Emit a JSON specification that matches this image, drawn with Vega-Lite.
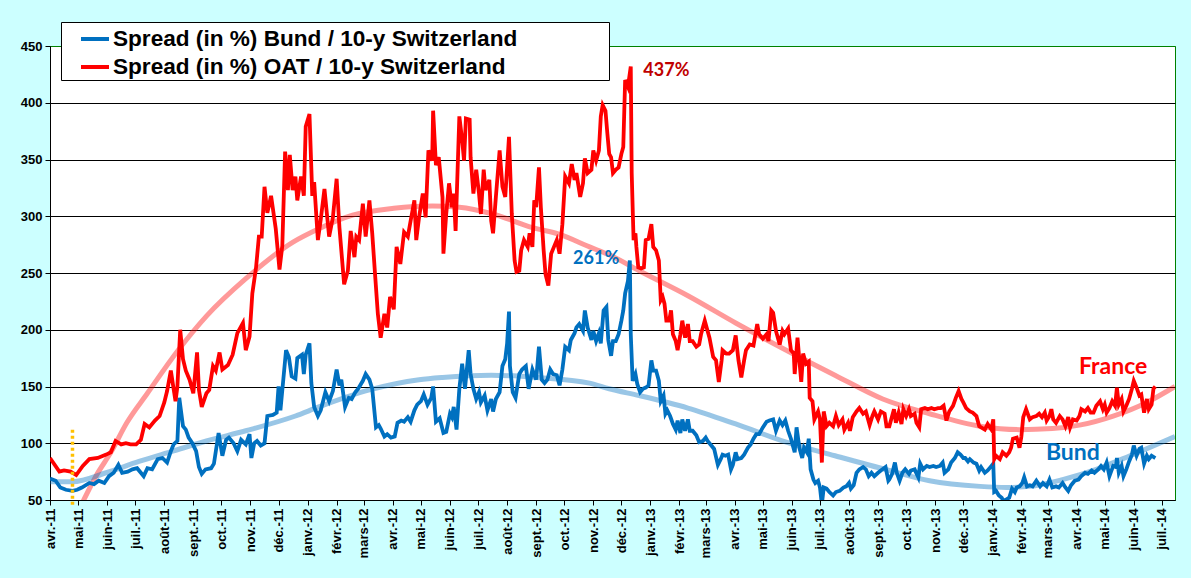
{
  "$schema": "https://vega.github.io/schema/vega-lite/v6.json",
  "description": "Spreads of Bund and OAT against 10-y Switzerland",
  "width": 1125,
  "height": 454,
  "autosize": "none",
  "padding": {"left": 50, "top": 46, "right": 16, "bottom": 78},
  "background": "#CCFFFF",
  "datasets": {
    "oat": [
      {"d":"2011-04-01","v":87},{"d":"2011-04-11","v":75},{"d":"2011-04-16","v":76},{"d":"2011-04-23","v":75},{"d":"2011-04-29","v":72},
      {"d":"2011-05-06","v":80},{"d":"2011-05-13","v":86},{"d":"2011-05-22","v":87},{"d":"2011-05-31","v":90},{"d":"2011-06-05","v":92},
      {"d":"2011-06-10","v":102},{"d":"2011-06-16","v":99},{"d":"2011-06-21","v":100},{"d":"2011-06-26","v":99},{"d":"2011-07-02","v":99},
      {"d":"2011-07-07","v":103},{"d":"2011-07-11","v":117},{"d":"2011-07-16","v":114},{"d":"2011-07-22","v":120},{"d":"2011-07-27","v":124},
      {"d":"2011-08-01","v":136},{"d":"2011-08-04","v":146},{"d":"2011-08-08","v":164},{"d":"2011-08-13","v":137},{"d":"2011-08-15","v":150},
      {"d":"2011-08-18","v":200},{"d":"2011-08-21","v":174},{"d":"2011-08-24","v":164},{"d":"2011-08-28","v":156},{"d":"2011-09-01","v":144},
      {"d":"2011-09-05","v":180},{"d":"2011-09-07","v":147},{"d":"2011-09-10","v":132},{"d":"2011-09-15","v":144},{"d":"2011-09-18","v":147},
      {"d":"2011-09-22","v":168},{"d":"2011-09-25","v":164},{"d":"2011-09-29","v":180},{"d":"2011-10-02","v":165},{"d":"2011-10-08","v":169},
      {"d":"2011-10-13","v":178},{"d":"2011-10-18","v":197},{"d":"2011-10-24","v":206},{"d":"2011-10-27","v":182},{"d":"2011-10-31","v":194},
      {"d":"2011-11-03","v":232},{"d":"2011-11-07","v":255},{"d":"2011-11-10","v":282},{"d":"2011-11-13","v":282},{"d":"2011-11-16","v":326},
      {"d":"2011-11-19","v":303},{"d":"2011-11-23","v":318},{"d":"2011-11-28","v":289},{"d":"2011-12-02","v":253},{"d":"2011-12-05","v":274},
      {"d":"2011-12-08","v":357},{"d":"2011-12-11","v":323},{"d":"2011-12-13","v":354},{"d":"2011-12-16","v":323},{"d":"2011-12-19","v":335},
      {"d":"2011-12-21","v":314},{"d":"2011-12-25","v":335},{"d":"2011-12-28","v":318},{"d":"2011-12-30","v":379},{"d":"2012-01-03","v":390},
      {"d":"2012-01-06","v":318},{"d":"2012-01-08","v":330},{"d":"2012-01-12","v":279},{"d":"2012-01-15","v":297},{"d":"2012-01-19","v":324},
      {"d":"2012-01-24","v":282},{"d":"2012-01-28","v":299},{"d":"2012-02-01","v":333},{"d":"2012-02-04","v":290},{"d":"2012-02-09","v":240},
      {"d":"2012-02-13","v":252},{"d":"2012-02-16","v":287},{"d":"2012-02-20","v":264},{"d":"2012-02-22","v":282},{"d":"2012-02-25","v":279},
      {"d":"2012-02-29","v":311},{"d":"2012-03-03","v":282},{"d":"2012-03-07","v":314},{"d":"2012-03-10","v":285},{"d":"2012-03-13","v":249},
      {"d":"2012-03-16","v":214},{"d":"2012-03-19","v":193},{"d":"2012-03-23","v":214},{"d":"2012-03-26","v":202},{"d":"2012-03-29","v":229},
      {"d":"2012-04-02","v":218},{"d":"2012-04-05","v":273},{"d":"2012-04-09","v":258},{"d":"2012-04-13","v":286},{"d":"2012-04-17","v":282},
      {"d":"2012-04-20","v":296},{"d":"2012-04-24","v":314},{"d":"2012-04-26","v":279},{"d":"2012-04-29","v":299},{"d":"2012-05-03","v":320},
      {"d":"2012-05-06","v":299},{"d":"2012-05-09","v":358},{"d":"2012-05-13","v":349},{"d":"2012-05-14","v":393},{"d":"2012-05-17","v":345},
      {"d":"2012-05-20","v":352},{"d":"2012-05-24","v":317},{"d":"2012-05-25","v":267},{"d":"2012-05-28","v":302},{"d":"2012-05-31","v":329},
      {"d":"2012-06-03","v":308},{"d":"2012-06-05","v":320},{"d":"2012-06-07","v":287},{"d":"2012-06-11","v":388},{"d":"2012-06-14","v":367},
      {"d":"2012-06-16","v":349},{"d":"2012-06-18","v":386},{"d":"2012-06-22","v":385},{"d":"2012-06-23","v":352},{"d":"2012-06-26","v":320},
      {"d":"2012-06-29","v":341},{"d":"2012-07-02","v":320},{"d":"2012-07-04","v":302},{"d":"2012-07-07","v":341},{"d":"2012-07-09","v":323},
      {"d":"2012-07-13","v":332},{"d":"2012-07-15","v":296},{"d":"2012-07-17","v":285},{"d":"2012-07-20","v":317},{"d":"2012-07-24","v":358},
      {"d":"2012-07-27","v":326},{"d":"2012-07-30","v":317},{"d":"2012-08-03","v":370},{"d":"2012-08-06","v":302},{"d":"2012-08-09","v":261},
      {"d":"2012-08-11","v":251},{"d":"2012-08-14","v":252},{"d":"2012-08-16","v":270},{"d":"2012-08-19","v":279},{"d":"2012-08-23","v":273},
      {"d":"2012-08-25","v":285},{"d":"2012-08-28","v":273},{"d":"2012-08-30","v":314},{"d":"2012-09-01","v":308},{"d":"2012-09-04","v":343},
      {"d":"2012-09-06","v":308},{"d":"2012-09-09","v":270},{"d":"2012-09-11","v":249},{"d":"2012-09-14","v":239},{"d":"2012-09-17","v":267},
      {"d":"2012-09-20","v":273},{"d":"2012-09-23","v":279},{"d":"2012-09-26","v":267},{"d":"2012-09-29","v":293},{"d":"2012-10-02","v":335},
      {"d":"2012-10-06","v":329},{"d":"2012-10-09","v":346},{"d":"2012-10-12","v":332},{"d":"2012-10-14","v":338},{"d":"2012-10-18","v":317},
      {"d":"2012-10-21","v":329},{"d":"2012-10-23","v":351},{"d":"2012-10-26","v":338},{"d":"2012-10-30","v":341},{"d":"2012-11-01","v":358},
      {"d":"2012-11-04","v":349},{"d":"2012-11-07","v":358},{"d":"2012-11-09","v":388},{"d":"2012-11-11","v":398},{"d":"2012-11-14","v":393},
      {"d":"2012-11-16","v":373},{"d":"2012-11-18","v":355},{"d":"2012-11-20","v":352},{"d":"2012-11-22","v":338},{"d":"2012-11-25","v":341},
      {"d":"2012-11-28","v":343},{"d":"2012-12-01","v":355},{"d":"2012-12-03","v":361},{"d":"2012-12-05","v":420},{"d":"2012-12-08","v":414},
      {"d":"2012-12-10","v":426},{"d":"2012-12-11","v":432},{"d":"2012-12-12","v":338},{"d":"2012-12-14","v":279},{"d":"2012-12-16","v":285},
      {"d":"2012-12-17","v":273},{"d":"2012-12-19","v":255},{"d":"2012-12-22","v":254},{"d":"2012-12-25","v":255},{"d":"2012-12-27","v":279},
      {"d":"2012-12-30","v":280},{"d":"2013-01-02","v":293},{"d":"2013-01-04","v":273},{"d":"2013-01-07","v":270},{"d":"2013-01-10","v":261},
      {"d":"2013-01-12","v":226},{"d":"2013-01-14","v":229},{"d":"2013-01-16","v":223},{"d":"2013-01-18","v":208},{"d":"2013-01-21","v":208},
      {"d":"2013-01-23","v":217},{"d":"2013-01-25","v":196},{"d":"2013-01-28","v":190},{"d":"2013-01-30","v":182},{"d":"2013-02-02","v":196},
      {"d":"2013-02-04","v":208},{"d":"2013-02-07","v":193},{"d":"2013-02-10","v":205},{"d":"2013-02-12","v":190},{"d":"2013-02-15","v":190},
      {"d":"2013-02-19","v":185},{"d":"2013-02-22","v":187},{"d":"2013-02-24","v":196},{"d":"2013-02-28","v":208},{"d":"2013-03-02","v":202},
      {"d":"2013-03-05","v":193},{"d":"2013-03-09","v":176},{"d":"2013-03-12","v":173},{"d":"2013-03-15","v":154},{"d":"2013-03-18","v":173},
      {"d":"2013-03-19","v":182},{"d":"2013-03-23","v":179},{"d":"2013-03-26","v":179},{"d":"2013-03-30","v":182},{"d":"2013-04-02","v":195},
      {"d":"2013-04-05","v":173},{"d":"2013-04-08","v":158},{"d":"2013-04-11","v":173},{"d":"2013-04-13","v":182},{"d":"2013-04-17","v":187},
      {"d":"2013-04-21","v":186},{"d":"2013-04-25","v":205},{"d":"2013-04-27","v":196},{"d":"2013-05-01","v":192},{"d":"2013-05-05","v":196},
      {"d":"2013-05-07","v":190},{"d":"2013-05-10","v":217},{"d":"2013-05-12","v":215},{"d":"2013-05-15","v":199},{"d":"2013-05-19","v":187},
      {"d":"2013-05-22","v":199},{"d":"2013-05-24","v":196},{"d":"2013-05-28","v":201},{"d":"2013-05-31","v":182},{"d":"2013-06-03","v":179},
      {"d":"2013-06-04","v":161},{"d":"2013-06-07","v":193},{"d":"2013-06-09","v":173},{"d":"2013-06-11","v":154},{"d":"2013-06-13","v":179},
      {"d":"2013-06-16","v":170},{"d":"2013-06-19","v":172},{"d":"2013-06-20","v":140},{"d":"2013-06-23","v":137},{"d":"2013-06-25","v":121},
      {"d":"2013-06-29","v":128},{"d":"2013-07-01","v":121},{"d":"2013-07-03","v":83},{"d":"2013-07-05","v":128},{"d":"2013-07-08","v":115},
      {"d":"2013-07-11","v":118},{"d":"2013-07-15","v":115},{"d":"2013-07-18","v":124},{"d":"2013-07-21","v":116},{"d":"2013-07-25","v":121},
      {"d":"2013-07-27","v":112},{"d":"2013-07-31","v":118},{"d":"2013-08-02","v":111},{"d":"2013-08-05","v":123},{"d":"2013-08-09","v":128},
      {"d":"2013-08-12","v":131},{"d":"2013-08-16","v":126},{"d":"2013-08-19","v":128},{"d":"2013-08-23","v":116},{"d":"2013-08-26","v":124},
      {"d":"2013-08-28","v":128},{"d":"2013-09-01","v":121},{"d":"2013-09-04","v":128},{"d":"2013-09-08","v":126},{"d":"2013-09-10","v":115},
      {"d":"2013-09-13","v":115},{"d":"2013-09-15","v":121},{"d":"2013-09-18","v":130},{"d":"2013-09-20","v":118},{"d":"2013-09-23","v":127},
      {"d":"2013-09-26","v":117},{"d":"2013-09-28","v":130},{"d":"2013-10-01","v":124},{"d":"2013-10-04","v":130},{"d":"2013-10-06","v":124},
      {"d":"2013-10-10","v":126},{"d":"2013-10-12","v":118},{"d":"2013-10-15","v":114},{"d":"2013-10-17","v":130},{"d":"2013-10-21","v":131},
      {"d":"2013-10-24","v":130},{"d":"2013-10-28","v":131},{"d":"2013-10-31","v":130},{"d":"2013-11-04","v":131},{"d":"2013-11-07","v":131},
      {"d":"2013-11-10","v":133},{"d":"2013-11-13","v":120},{"d":"2013-11-16","v":128},{"d":"2013-11-20","v":133},{"d":"2013-11-23","v":140},
      {"d":"2013-11-26","v":146},{"d":"2013-11-29","v":139},{"d":"2013-12-01","v":136},{"d":"2013-12-04","v":131},{"d":"2013-12-08","v":128},
      {"d":"2013-12-11","v":127},{"d":"2013-12-15","v":124},{"d":"2013-12-18","v":115},{"d":"2013-12-20","v":114},{"d":"2013-12-24","v":112},
      {"d":"2013-12-27","v":117},{"d":"2013-12-31","v":112},{"d":"2014-01-02","v":121},{"d":"2014-01-03","v":86},{"d":"2014-01-05","v":89},
      {"d":"2014-01-09","v":86},{"d":"2014-01-12","v":92},{"d":"2014-01-16","v":89},{"d":"2014-01-19","v":92},{"d":"2014-01-21","v":96},
      {"d":"2014-01-23","v":104},{"d":"2014-01-27","v":105},{"d":"2014-01-30","v":96},{"d":"2014-02-01","v":106},{"d":"2014-02-03","v":123},
      {"d":"2014-02-06","v":130},{"d":"2014-02-10","v":121},{"d":"2014-02-13","v":123},{"d":"2014-02-17","v":124},{"d":"2014-02-20","v":126},
      {"d":"2014-02-23","v":123},{"d":"2014-02-26","v":127},{"d":"2014-02-28","v":120},{"d":"2014-03-03","v":124},{"d":"2014-03-05","v":130},
      {"d":"2014-03-07","v":121},{"d":"2014-03-10","v":118},{"d":"2014-03-14","v":124},{"d":"2014-03-17","v":121},{"d":"2014-03-20","v":115},
      {"d":"2014-03-23","v":123},{"d":"2014-03-25","v":114},{"d":"2014-03-28","v":121},{"d":"2014-04-01","v":120},{"d":"2014-04-04","v":124},
      {"d":"2014-04-06","v":130},{"d":"2014-04-10","v":128},{"d":"2014-04-13","v":131},{"d":"2014-04-16","v":127},{"d":"2014-04-19","v":127},
      {"d":"2014-04-22","v":133},{"d":"2014-04-26","v":137},{"d":"2014-04-29","v":130},{"d":"2014-05-01","v":134},{"d":"2014-05-03","v":127},
      {"d":"2014-05-06","v":131},{"d":"2014-05-09","v":137},{"d":"2014-05-12","v":133},{"d":"2014-05-14","v":149},{"d":"2014-05-16","v":134},
      {"d":"2014-05-19","v":139},{"d":"2014-05-21","v":128},{"d":"2014-05-24","v":133},{"d":"2014-05-27","v":139},{"d":"2014-05-30","v":148},
      {"d":"2014-06-01","v":155},{"d":"2014-06-04","v":149},{"d":"2014-06-07","v":142},{"d":"2014-06-09","v":143},{"d":"2014-06-12","v":127},
      {"d":"2014-06-15","v":139},{"d":"2014-06-17","v":130},{"d":"2014-06-20","v":134},{"d":"2014-06-22","v":148},{"d":"2014-06-24","v":150}
    ],
    "bund": [
      {"d":"2011-04-01","v":69},{"d":"2011-04-07","v":67},{"d":"2011-04-12","v":61},{"d":"2011-04-18","v":59},{"d":"2011-04-25","v":58},
      {"d":"2011-04-30","v":59},{"d":"2011-05-05","v":61},{"d":"2011-05-13","v":65},{"d":"2011-05-18","v":64},{"d":"2011-05-23","v":67},
      {"d":"2011-05-29","v":65},{"d":"2011-06-03","v":71},{"d":"2011-06-08","v":74},{"d":"2011-06-13","v":81},{"d":"2011-06-17","v":74},
      {"d":"2011-06-23","v":75},{"d":"2011-06-28","v":77},{"d":"2011-07-03","v":78},{"d":"2011-07-07","v":74},{"d":"2011-07-10","v":71},
      {"d":"2011-07-14","v":78},{"d":"2011-07-19","v":77},{"d":"2011-07-25","v":86},{"d":"2011-07-30","v":87},{"d":"2011-08-04","v":83},
      {"d":"2011-08-08","v":93},{"d":"2011-08-11","v":99},{"d":"2011-08-15","v":102},{"d":"2011-08-17","v":140},{"d":"2011-08-21","v":115},
      {"d":"2011-08-24","v":112},{"d":"2011-08-27","v":105},{"d":"2011-08-31","v":100},{"d":"2011-09-04","v":93},{"d":"2011-09-07","v":79},
      {"d":"2011-09-10","v":73},{"d":"2011-09-14","v":77},{"d":"2011-09-20","v":78},{"d":"2011-09-23","v":82},{"d":"2011-09-28","v":109},
      {"d":"2011-10-02","v":89},{"d":"2011-10-06","v":103},{"d":"2011-10-09","v":105},{"d":"2011-10-14","v":100},{"d":"2011-10-18","v":93},
      {"d":"2011-10-22","v":103},{"d":"2011-10-27","v":99},{"d":"2011-10-31","v":108},{"d":"2011-11-02","v":87},{"d":"2011-11-05","v":100},
      {"d":"2011-11-08","v":102},{"d":"2011-11-12","v":98},{"d":"2011-11-16","v":100},{"d":"2011-11-19","v":124},{"d":"2011-11-25","v":125},
      {"d":"2011-11-29","v":127},{"d":"2011-12-01","v":150},{"d":"2011-12-03","v":129},{"d":"2011-12-09","v":182},{"d":"2011-12-12","v":176},
      {"d":"2011-12-15","v":159},{"d":"2011-12-19","v":157},{"d":"2011-12-21","v":175},{"d":"2011-12-26","v":178},{"d":"2011-12-28","v":161},
      {"d":"2011-12-30","v":178},{"d":"2012-01-03","v":188},{"d":"2012-01-05","v":153},{"d":"2012-01-08","v":132},{"d":"2012-01-12","v":124},
      {"d":"2012-01-15","v":129},{"d":"2012-01-20","v":145},{"d":"2012-01-24","v":137},{"d":"2012-01-28","v":146},{"d":"2012-02-01","v":165},
      {"d":"2012-02-04","v":151},{"d":"2012-02-06","v":156},{"d":"2012-02-10","v":132},{"d":"2012-02-14","v":140},{"d":"2012-02-17","v":139},
      {"d":"2012-02-21","v":145},{"d":"2012-02-24","v":148},{"d":"2012-02-29","v":155},{"d":"2012-03-03","v":161},{"d":"2012-03-07","v":156},
      {"d":"2012-03-10","v":148},{"d":"2012-03-14","v":114},{"d":"2012-03-17","v":116},{"d":"2012-03-19","v":113},{"d":"2012-03-23","v":106},
      {"d":"2012-03-26","v":108},{"d":"2012-03-30","v":105},{"d":"2012-04-03","v":106},{"d":"2012-04-06","v":118},{"d":"2012-04-10","v":120},
      {"d":"2012-04-13","v":119},{"d":"2012-04-17","v":123},{"d":"2012-04-20","v":119},{"d":"2012-04-24","v":129},{"d":"2012-04-27","v":134},
      {"d":"2012-05-01","v":137},{"d":"2012-05-04","v":143},{"d":"2012-05-08","v":134},{"d":"2012-05-12","v":140},{"d":"2012-05-14","v":150},
      {"d":"2012-05-17","v":119},{"d":"2012-05-21","v":122},{"d":"2012-05-25","v":109},{"d":"2012-05-28","v":110},{"d":"2012-06-01","v":126},
      {"d":"2012-06-03","v":123},{"d":"2012-06-05","v":132},{"d":"2012-06-08","v":112},{"d":"2012-06-11","v":148},{"d":"2012-06-14","v":170},
      {"d":"2012-06-17","v":148},{"d":"2012-06-21","v":182},{"d":"2012-06-23","v":161},{"d":"2012-06-26","v":148},{"d":"2012-06-29","v":139},
      {"d":"2012-07-02","v":145},{"d":"2012-07-04","v":136},{"d":"2012-07-08","v":142},{"d":"2012-07-11","v":129},{"d":"2012-07-15","v":139},
      {"d":"2012-07-17","v":128},{"d":"2012-07-20","v":139},{"d":"2012-07-24","v":145},{"d":"2012-07-27","v":168},{"d":"2012-07-30","v":174},
      {"d":"2012-08-01","v":188},{"d":"2012-08-03","v":216},{"d":"2012-08-04","v":168},{"d":"2012-08-07","v":145},{"d":"2012-08-10","v":140},
      {"d":"2012-08-14","v":161},{"d":"2012-08-17","v":165},{"d":"2012-08-21","v":168},{"d":"2012-08-24","v":148},{"d":"2012-08-28","v":165},
      {"d":"2012-09-01","v":156},{"d":"2012-09-04","v":185},{"d":"2012-09-07","v":156},{"d":"2012-09-10","v":153},{"d":"2012-09-13","v":156},
      {"d":"2012-09-16","v":165},{"d":"2012-09-19","v":161},{"d":"2012-09-23","v":160},{"d":"2012-09-26","v":151},{"d":"2012-09-29","v":165},
      {"d":"2012-10-02","v":185},{"d":"2012-10-06","v":182},{"d":"2012-10-08","v":191},{"d":"2012-10-12","v":197},{"d":"2012-10-14","v":202},
      {"d":"2012-10-17","v":205},{"d":"2012-10-21","v":199},{"d":"2012-10-23","v":217},{"d":"2012-10-26","v":202},{"d":"2012-10-30","v":191},
      {"d":"2012-11-01","v":199},{"d":"2012-11-04","v":190},{"d":"2012-11-07","v":197},{"d":"2012-11-09","v":188},{"d":"2012-11-12","v":217},
      {"d":"2012-11-15","v":220},{"d":"2012-11-17","v":191},{"d":"2012-11-20","v":177},{"d":"2012-11-22","v":190},{"d":"2012-11-25","v":190},
      {"d":"2012-11-28","v":196},{"d":"2012-12-01","v":208},{"d":"2012-12-03","v":217},{"d":"2012-12-05","v":232},{"d":"2012-12-08","v":243},
      {"d":"2012-12-10","v":261},{"d":"2012-12-11","v":196},{"d":"2012-12-13","v":155},{"d":"2012-12-16","v":161},{"d":"2012-12-18","v":152},
      {"d":"2012-12-21","v":145},{"d":"2012-12-24","v":148},{"d":"2012-12-27","v":149},{"d":"2012-12-30","v":151},{"d":"2013-01-02","v":173},
      {"d":"2013-01-04","v":164},{"d":"2013-01-07","v":164},{"d":"2013-01-10","v":155},{"d":"2013-01-12","v":137},{"d":"2013-01-15","v":142},
      {"d":"2013-01-17","v":126},{"d":"2013-01-19","v":129},{"d":"2013-01-22","v":124},{"d":"2013-01-25","v":117},{"d":"2013-01-28","v":112},
      {"d":"2013-01-30","v":120},{"d":"2013-02-02","v":109},{"d":"2013-02-04","v":121},{"d":"2013-02-07","v":111},{"d":"2013-02-10","v":121},
      {"d":"2013-02-12","v":111},{"d":"2013-02-15","v":111},{"d":"2013-02-19","v":107},{"d":"2013-02-22","v":101},{"d":"2013-02-26","v":102},
      {"d":"2013-03-01","v":105},{"d":"2013-03-03","v":102},{"d":"2013-03-07","v":98},{"d":"2013-03-10","v":95},{"d":"2013-03-14","v":81},
      {"d":"2013-03-17","v":86},{"d":"2013-03-19","v":90},{"d":"2013-03-22","v":89},{"d":"2013-03-25","v":90},{"d":"2013-03-28","v":77},
      {"d":"2013-03-30","v":81},{"d":"2013-04-02","v":92},{"d":"2013-04-04","v":86},{"d":"2013-04-08","v":87},{"d":"2013-04-11","v":90},
      {"d":"2013-04-15","v":96},{"d":"2013-04-18","v":99},{"d":"2013-04-21","v":104},{"d":"2013-04-24","v":108},{"d":"2013-04-27","v":108},
      {"d":"2013-05-01","v":114},{"d":"2013-05-05","v":119},{"d":"2013-05-08","v":120},{"d":"2013-05-12","v":121},{"d":"2013-05-15","v":111},
      {"d":"2013-05-19","v":120},{"d":"2013-05-22","v":116},{"d":"2013-05-25","v":120},{"d":"2013-05-28","v":111},{"d":"2013-05-31","v":104},
      {"d":"2013-06-04","v":92},{"d":"2013-06-06","v":114},{"d":"2013-06-09","v":96},{"d":"2013-06-12","v":87},{"d":"2013-06-14","v":96},
      {"d":"2013-06-17","v":92},{"d":"2013-06-19","v":104},{"d":"2013-06-21","v":77},{"d":"2013-06-24","v":68},{"d":"2013-06-26","v":65},
      {"d":"2013-06-29","v":67},{"d":"2013-07-01","v":61},{"d":"2013-07-03","v":46},{"d":"2013-07-05","v":61},{"d":"2013-07-08","v":60},
      {"d":"2013-07-11","v":57},{"d":"2013-07-15","v":54},{"d":"2013-07-18","v":57},{"d":"2013-07-22","v":58},{"d":"2013-07-26","v":61},
      {"d":"2013-07-29","v":62},{"d":"2013-08-01","v":65},{"d":"2013-08-03","v":60},{"d":"2013-08-06","v":63},{"d":"2013-08-09","v":74},
      {"d":"2013-08-12","v":77},{"d":"2013-08-16","v":79},{"d":"2013-08-19","v":77},{"d":"2013-08-22","v":71},{"d":"2013-08-25","v":74},
      {"d":"2013-08-28","v":71},{"d":"2013-09-01","v":74},{"d":"2013-09-04","v":76},{"d":"2013-09-09","v":79},{"d":"2013-09-12","v":67},
      {"d":"2013-09-13","v":68},{"d":"2013-09-16","v":73},{"d":"2013-09-19","v":83},{"d":"2013-09-21","v":74},{"d":"2013-09-24","v":67},
      {"d":"2013-09-27","v":74},{"d":"2013-09-30","v":77},{"d":"2013-10-04","v":73},{"d":"2013-10-06","v":76},{"d":"2013-10-10","v":77},
      {"d":"2013-10-14","v":70},{"d":"2013-10-16","v":82},{"d":"2013-10-19","v":77},{"d":"2013-10-23","v":80},{"d":"2013-10-26","v":79},
      {"d":"2013-10-30","v":80},{"d":"2013-11-02","v":79},{"d":"2013-11-06","v":80},{"d":"2013-11-09","v":83},{"d":"2013-11-11","v":74},
      {"d":"2013-11-15","v":77},{"d":"2013-11-18","v":83},{"d":"2013-11-22","v":87},{"d":"2013-11-25","v":92},{"d":"2013-11-28","v":90},
      {"d":"2013-12-01","v":87},{"d":"2013-12-03","v":87},{"d":"2013-12-06","v":84},{"d":"2013-12-08","v":86},{"d":"2013-12-12","v":83},
      {"d":"2013-12-15","v":82},{"d":"2013-12-18","v":76},{"d":"2013-12-20","v":79},{"d":"2013-12-24","v":74},{"d":"2013-12-27","v":76},
      {"d":"2013-12-30","v":79},{"d":"2014-01-02","v":82},{"d":"2014-01-03","v":57},{"d":"2014-01-05","v":58},{"d":"2014-01-08","v":54},
      {"d":"2014-01-11","v":52},{"d":"2014-01-13","v":49},{"d":"2014-01-17","v":51},{"d":"2014-01-19","v":52},{"d":"2014-01-22","v":60},
      {"d":"2014-01-25","v":57},{"d":"2014-01-27","v":61},{"d":"2014-01-30","v":62},{"d":"2014-02-02","v":65},{"d":"2014-02-04","v":70},
      {"d":"2014-02-07","v":62},{"d":"2014-02-10","v":63},{"d":"2014-02-13","v":62},{"d":"2014-02-17","v":67},{"d":"2014-02-21","v":62},
      {"d":"2014-02-24","v":65},{"d":"2014-02-28","v":62},{"d":"2014-03-03","v":68},{"d":"2014-03-06","v":61},{"d":"2014-03-10","v":62},
      {"d":"2014-03-13","v":61},{"d":"2014-03-17","v":65},{"d":"2014-03-20","v":61},{"d":"2014-03-23","v":58},{"d":"2014-03-26","v":63},
      {"d":"2014-03-30","v":67},{"d":"2014-04-03","v":68},{"d":"2014-04-06","v":71},{"d":"2014-04-10","v":74},{"d":"2014-04-13","v":73},
      {"d":"2014-04-17","v":76},{"d":"2014-04-20","v":74},{"d":"2014-04-24","v":77},{"d":"2014-04-27","v":80},{"d":"2014-04-30","v":77},
      {"d":"2014-05-03","v":83},{"d":"2014-05-06","v":71},{"d":"2014-05-10","v":80},{"d":"2014-05-13","v":79},{"d":"2014-05-14","v":87},
      {"d":"2014-05-16","v":74},{"d":"2014-05-19","v":80},{"d":"2014-05-21","v":71},{"d":"2014-05-24","v":77},{"d":"2014-05-27","v":84},
      {"d":"2014-05-30","v":90},{"d":"2014-06-01","v":98},{"d":"2014-06-04","v":89},{"d":"2014-06-07","v":95},{"d":"2014-06-09","v":96},
      {"d":"2014-06-12","v":82},{"d":"2014-06-15","v":89},{"d":"2014-06-17","v":86},{"d":"2014-06-20","v":89},{"d":"2014-06-24","v":87}
    ],
    "oatTrend": [
      {"d":"2011-04-30","v":38},{"d":"2011-05-07","v":50},{"d":"2011-05-20","v":71},{"d":"2011-06-05","v":92},{"d":"2011-06-22","v":118},
      {"d":"2011-07-14","v":144},{"d":"2011-08-15","v":181},{"d":"2011-09-15","v":212},{"d":"2011-10-27","v":245},{"d":"2011-12-16","v":277},
      {"d":"2012-01-13","v":289},{"d":"2012-02-18","v":301},{"d":"2012-04-02","v":307},{"d":"2012-05-13","v":309},{"d":"2012-06-11","v":308},
      {"d":"2012-07-17","v":302},{"d":"2012-08-28","v":290},{"d":"2012-09-26","v":284},{"d":"2012-10-28","v":273},{"d":"2012-11-18","v":266},
      {"d":"2012-12-20","v":252},{"d":"2013-02-10","v":230},{"d":"2013-04-02","v":206},{"d":"2013-05-26","v":182},{"d":"2013-07-17","v":160},
      {"d":"2013-09-06","v":139},{"d":"2013-10-26","v":126},{"d":"2013-12-19","v":115},{"d":"2014-01-30","v":112},{"d":"2014-03-06","v":113},
      {"d":"2014-04-04","v":116},{"d":"2014-05-10","v":124},{"d":"2014-06-15","v":136},{"d":"2014-07-15","v":150}
    ],
    "bundTrend": [
      {"d":"2011-04-01","v":66},{"d":"2011-04-25","v":66},{"d":"2011-05-31","v":74},{"d":"2011-07-05","v":84},{"d":"2011-08-10","v":93},
      {"d":"2011-09-15","v":102},{"d":"2011-10-27","v":111},{"d":"2011-12-19","v":124},{"d":"2012-01-13","v":132},{"d":"2012-03-07","v":147},
      {"d":"2012-04-29","v":156},{"d":"2012-05-24","v":158},{"d":"2012-07-15","v":160},{"d":"2012-09-01","v":158},{"d":"2012-10-28","v":153},
      {"d":"2012-11-18","v":148},{"d":"2012-12-20","v":142},{"d":"2013-02-10","v":131},{"d":"2013-04-02","v":117},{"d":"2013-05-26","v":101},
      {"d":"2013-07-17","v":89},{"d":"2013-09-13","v":76},{"d":"2013-10-26","v":67},{"d":"2013-12-19","v":62},{"d":"2014-01-16","v":61},
      {"d":"2014-02-10","v":62},{"d":"2014-03-17","v":68},{"d":"2014-04-22","v":77},{"d":"2014-05-28","v":89},{"d":"2014-07-15","v":106}
    ],
    "notes": [
      {"d":"2013-01-18","v":428,"label":"437%"},
      {"d":"2012-11-04","v":262,"label":"261%"},
      {"d":"2014-05-10","v":167,"label":"France"},
      {"d":"2014-03-28","v":91,"label":"Bund"}
    ],
    "marker": [
      {"d":"2011-04-25","top":112,"bottom":44}
    ]
  },
  "encoding": {
    "x": {
      "field": "d",
      "type": "temporal",
      "scale": {
        "domain": [
          {"year": 2011, "month": 4, "date": 1, "utc": true},
          {"year": 2014, "month": 7, "date": 15, "utc": true}
        ]
      },
      "axis": {
        "title": null,
        "grid": false,
        "tickCount": {"interval": "month", "step": 1},
        "labelExpr": "['janv.','févr.','mars','avr.','mai','juin','juil.','août','sept.','oct.','nov.','déc.'][month(datum.value)] + '-' + timeFormat(datum.value, '%y')",
        "labelAngle": 270,
        "labelAlign": "right",
        "labelBaseline": "middle",
        "labelPadding": 3,
        "labelOverlap": false,
        "labelFlush": false,
        "tickSize": 5
      }
    },
    "y": {
      "field": "v",
      "type": "quantitative",
      "scale": {"domain": [50, 450], "nice": false, "zero": false},
      "axis": {
        "title": null,
        "values": [50, 100, 150, 200, 250, 300, 350, 400, 450],
        "grid": true,
        "gridColor": {"condition": {"test": "datum.value == 450", "value": "#008000"}, "value": "black"},
        "gridWidth": 1,
        "tickSize": 5,
        "labelPadding": 3
      }
    }
  },
  "layer": [
    {
      "data": {"name": "oatTrend"},
      "mark": {"type": "line", "color": "#FF0000", "opacity": 0.4, "strokeWidth": 5, "interpolate": "monotone", "clip": true}
    },
    {
      "data": {"name": "bundTrend"},
      "mark": {"type": "line", "color": "#0070C0", "opacity": 0.4, "strokeWidth": 5, "interpolate": "monotone", "clip": true}
    },
    {
      "data": {"name": "bund"},
      "mark": {"type": "line", "strokeWidth": 3.8, "clip": true},
      "encoding": {
        "color": {
          "datum": "Bund",
          "scale": {"domain": ["Bund", "OAT"], "range": ["#0070C0", "#FF0000"]},
          "legend": {
            "title": ".",
            "titleOrient": "right",
            "titleColor": "white",
            "titleFontSize": 12,
            "titlePadding": 87,
            "orient": "none",
            "legendX": 11,
            "legendY": -24,
            "fillColor": "white",
            "strokeColor": "black",
            "padding": 1,
            "symbolType": "stroke",
            "symbolSize": 784,
            "symbolStrokeWidth": 4,
            "symbolOffset": 17,
            "labelOffset": 2,
            "labelFont": "Liberation Sans",
            "labelFontSize": 22.6,
            "labelFontWeight": "bold",
            "labelColor": "black",
            "labelLimit": 700,
            "rowPadding": 0,
            "labelExpr": "datum.label == 'Bund' ? 'Spread (in %) Bund / 10-y Switzerland' : 'Spread (in %) OAT / 10-y Switzerland'"
          }
        }
      }
    },
    {
      "data": {"name": "oat"},
      "mark": {"type": "line", "strokeWidth": 3.8, "clip": true},
      "encoding": {"color": {"datum": "OAT"}}
    },
    {
      "data": {"name": "marker"},
      "mark": {"type": "rule", "color": "#FFC000", "strokeWidth": 3.5, "strokeDash": [3, 3]},
      "encoding": {"y": {"field": "top", "type": "quantitative"}, "y2": {"field": "bottom"}}
    },
    {
      "data": {"name": "notes"},
      "transform": [{"filter": "datum.label == '437%'"}],
      "mark": {"type": "text", "color": "#C00000", "font": "Lato", "fontWeight": "bold", "fontSize": 18, "baseline": "middle"},
      "encoding": {"text": {"field": "label"}}
    },
    {
      "data": {"name": "notes"},
      "transform": [{"filter": "datum.label == '261%'"}],
      "mark": {"type": "text", "color": "#0070C0", "font": "Lato", "fontWeight": "bold", "fontSize": 18, "baseline": "middle"},
      "encoding": {"text": {"field": "label"}}
    },
    {
      "data": {"name": "notes"},
      "transform": [{"filter": "datum.label == 'France'"}],
      "mark": {"type": "text", "color": "#FF0000", "font": "Lato", "fontWeight": "bold", "fontSize": 23, "baseline": "middle"},
      "encoding": {"text": {"field": "label"}}
    },
    {
      "data": {"name": "notes"},
      "transform": [{"filter": "datum.label == 'Bund'"}],
      "mark": {"type": "text", "color": "#0070C0", "font": "Lato", "fontWeight": "bold", "fontSize": 23, "baseline": "middle"},
      "encoding": {"text": {"field": "label"}}
    }
  ],
  "resolve": {"scale": {"color": "shared"}},
  "config": {
    "view": {"fill": "white", "stroke": "#008000", "strokeWidth": 1},
    "axis": {
      "labelFont": "Liberation Sans",
      "labelFontWeight": "bold",
      "labelFontSize": 13,
      "labelColor": "black",
      "domainColor": "black",
      "tickColor": "black"
    }
  }
}
